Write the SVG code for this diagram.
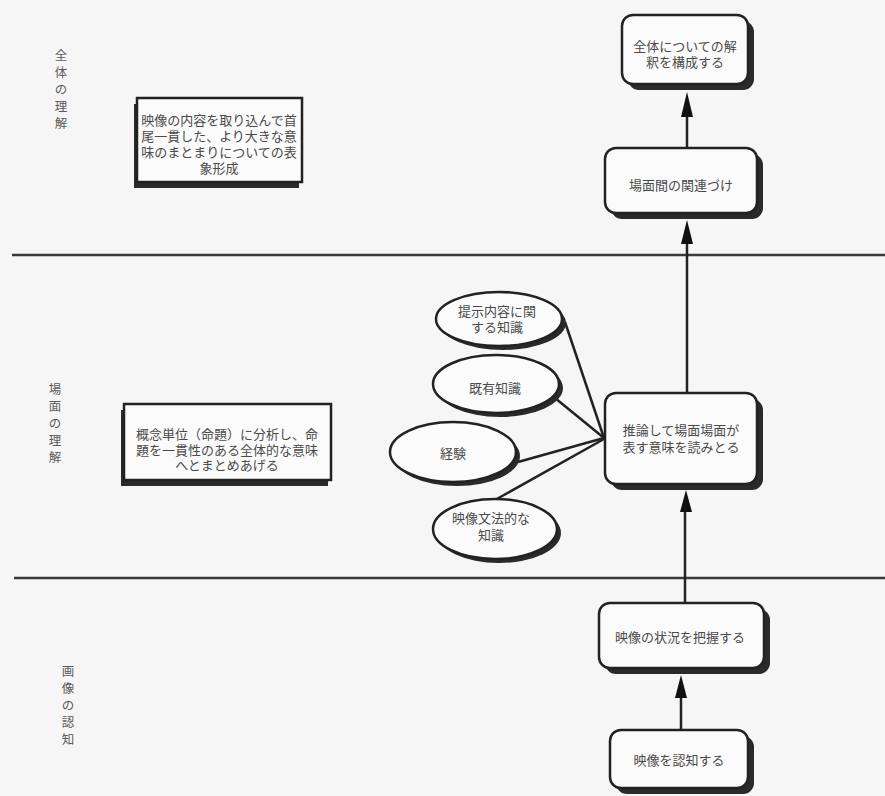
<svg xmlns="http://www.w3.org/2000/svg" width="885" height="796" viewBox="0 0 885 796">
  <style>
    .bg { fill: #f7f6f7; }
    .txt { font-family: "Liberation Serif", "Noto Sans CJK JP", serif; font-size: 13px; fill: #4a4a4a; text-anchor: middle; }
    .lab { font-family: "Liberation Serif", "Noto Sans CJK JP", serif; font-size: 12.5px; fill: #5a5a5a; text-anchor: middle; }
    .box { fill: #fbfbfb; stroke: #222; stroke-width: 2.5; }
    .shadow { fill: #2a2a2a; }
    .rule { stroke: #3a3a3a; stroke-width: 2.5; fill: none; }
    .edge { stroke: #222; stroke-width: 2.5; fill: none; }
    .head { fill: #111; }
  </style>

  <rect class="bg" x="0" y="0" width="885" height="796"/>

  <!-- level separators -->
  <g id="separators">
    <line class="rule" x1="12" y1="255" x2="885" y2="255"/>
    <line class="rule" x1="14" y1="578" x2="885" y2="578"/>
  </g>

  <!-- vertical level labels -->
  <g id="level-labels">
    <text class="lab"><tspan x="61" y="60">全</tspan><tspan x="61" y="77">体</tspan><tspan x="61" y="94">の</tspan><tspan x="61" y="111">理</tspan><tspan x="61" y="128">解</tspan></text>
    <text class="lab"><tspan x="55" y="394">場</tspan><tspan x="55" y="411">面</tspan><tspan x="55" y="428">の</tspan><tspan x="55" y="445">理</tspan><tspan x="55" y="462">解</tspan></text>
    <text class="lab"><tspan x="68" y="676">画</tspan><tspan x="68" y="693">像</tspan><tspan x="68" y="710">の</tspan><tspan x="68" y="727">認</tspan><tspan x="68" y="744">知</tspan></text>
  </g>

  <!-- connectors -->
  <g id="connectors">
    <line class="edge" x1="687" y1="148" x2="687" y2="110"/>
    <polygon class="head" points="687,92 681,117 693,117"/>
    <line class="edge" x1="687" y1="393" x2="687" y2="236"/>
    <polygon class="head" points="687,220 681,244 693,244"/>
    <line class="edge" x1="685" y1="603" x2="685" y2="505"/>
    <polygon class="head" points="686,490 680,512 692,512"/>
    <line class="edge" x1="681" y1="730" x2="681" y2="690"/>
    <polygon class="head" points="681,675 675,698 687,698"/>
    <line class="edge" x1="565" y1="322" x2="604" y2="438"/>
    <line class="edge" x1="555" y1="398" x2="604" y2="438"/>
    <line class="edge" x1="518" y1="462" x2="604" y2="438"/>
    <line class="edge" x1="495" y1="500" x2="604" y2="439"/>
  </g>

  <!-- left description boxes -->
  <g id="desc-whole">
    <rect class="shadow" x="134" y="104" width="165" height="84"/>
    <rect class="box" x="137" y="98" width="165" height="84"/>
    <text class="txt" font-size="12.5"><tspan x="219" y="125">映像の内容を取り込んで首</tspan><tspan x="219" y="141">尾一貫した、より大きな意</tspan><tspan x="219" y="157">味のまとまりについての表</tspan><tspan x="219" y="173">象形成</tspan></text>
  </g>
  <g id="desc-scene">
    <rect class="shadow" x="121" y="410" width="207" height="76"/>
    <rect class="box" x="124" y="404" width="207" height="76"/>
    <text class="txt" font-size="12.8"><tspan x="227" y="439">概念単位（命題）に分析し、命</tspan><tspan x="227" y="454.5">題を一貫性のある全体的な意味</tspan><tspan x="227" y="470">へとまとめあげる</tspan></text>
  </g>

  <!-- process boxes -->
  <g id="whole-interpretation">
    <rect class="shadow" x="628" y="21" width="126" height="69" rx="11"/>
    <rect class="box" x="622" y="15" width="126" height="69" rx="11"/>
    <text class="txt"><tspan x="685" y="51">全体についての解</tspan><tspan x="685" y="67">釈を構成する</tspan></text>
  </g>
  <g id="scene-relation">
    <rect class="shadow" x="611" y="154" width="152" height="65" rx="11"/>
    <rect class="box" x="605" y="148" width="152" height="65" rx="11"/>
    <text class="txt" x="681" y="190">場面間の関連づけ</text>
  </g>
  <g id="inference">
    <rect class="shadow" x="611" y="399" width="152" height="91" rx="11"/>
    <rect class="box" x="605" y="393" width="152" height="91" rx="11"/>
    <text class="txt" font-size="13.5"><tspan x="681" y="435">推論して場面場面が</tspan><tspan x="681" y="452">表す意味を読みとる</tspan></text>
  </g>
  <g id="situation">
    <rect class="shadow" x="605" y="609" width="165" height="65" rx="11"/>
    <rect class="box" x="599" y="603" width="165" height="65" rx="11"/>
    <text class="txt" x="680" y="642">映像の状況を把握する</text>
  </g>
  <g id="recognition">
    <rect class="shadow" x="616" y="736" width="138" height="58" rx="11"/>
    <rect class="box" x="610" y="730" width="138" height="58" rx="11"/>
    <text class="txt" x="679" y="765">映像を認知する</text>
  </g>

  <!-- knowledge sources -->
  <g id="content-knowledge">
    <ellipse class="shadow" cx="503" cy="323" rx="63" ry="27"/>
    <ellipse class="box" cx="499" cy="319" rx="63" ry="27"/>
    <text class="txt"><tspan x="497" y="316">提示内容に関</tspan><tspan x="497" y="332">する知識</tspan></text>
  </g>
  <g id="prior-knowledge">
    <ellipse class="shadow" cx="500" cy="388" rx="63" ry="29"/>
    <ellipse class="box" cx="496" cy="384" rx="63" ry="29"/>
    <text class="txt" x="495" y="393">既有知識</text>
  </g>
  <g id="experience">
    <ellipse class="shadow" cx="457" cy="456" rx="63" ry="30"/>
    <ellipse class="box" cx="453" cy="452" rx="63" ry="30"/>
    <text class="txt" x="453" y="458">経験</text>
  </g>
  <g id="film-grammar">
    <ellipse class="shadow" cx="499" cy="533" rx="62" ry="30"/>
    <ellipse class="box" cx="495" cy="529" rx="62" ry="30"/>
    <text class="txt"><tspan x="491" y="523">映像文法的な</tspan><tspan x="491" y="540">知識</tspan></text>
  </g>
</svg>
